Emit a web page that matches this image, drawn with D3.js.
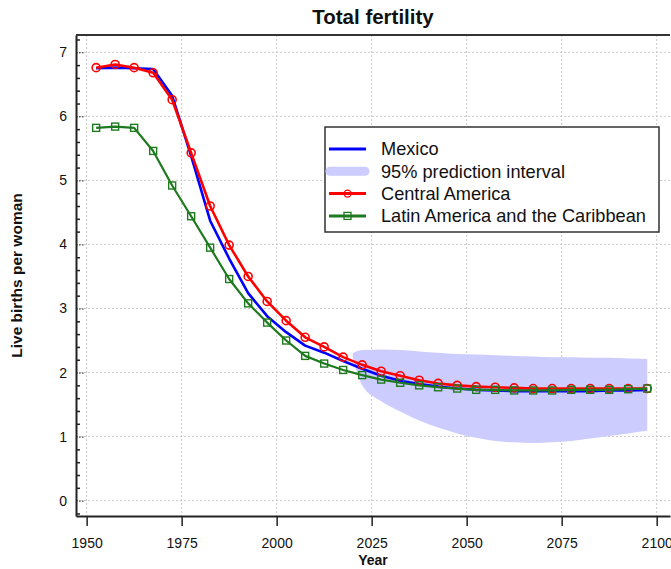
<!DOCTYPE html>
<html>
<head>
<meta charset="utf-8">
<script src="https://cdn.jsdelivr.net/npm/d3@7"></script>
<style>
  body { margin: 0; background: #fff; }
  text { font-family: "Liberation Sans", Arial, sans-serif; fill: #111; }
</style>
</head>
<body>
<div id="chart"></div>
<script>
// data
const years = [1952.5, 1957.5, 1962.5, 1967.5, 1972.5, 1977.5, 1982.5, 1987.5, 1992.5, 1997.5,
    2002.5, 2007.5, 2012.5, 2017.5, 2022.5, 2027.5, 2032.5, 2037.5, 2042.5, 2047.5,
    2052.5, 2057.5, 2062.5, 2067.5, 2072.5, 2077.5, 2082.5, 2087.5, 2092.5, 2097.5];
const mexico = [6.75, 6.76, 6.75, 6.74, 6.32, 5.38, 4.37, 3.78, 3.24, 2.88,
    2.63, 2.42, 2.31, 2.18, 2.06, 1.95, 1.87, 1.82, 1.78, 1.75,
    1.73, 1.72, 1.71, 1.71, 1.71, 1.71, 1.71, 1.72, 1.72, 1.73];
const centralAmerica = [6.76, 6.81, 6.76, 6.68, 6.26, 5.43, 4.60, 3.99, 3.50, 3.11,
    2.81, 2.55, 2.40, 2.24, 2.12, 2.02, 1.95, 1.88, 1.83, 1.80,
    1.78, 1.77, 1.76, 1.75, 1.75, 1.75, 1.75, 1.75, 1.75, 1.75];
const latinAmerica = [5.82, 5.84, 5.82, 5.46, 4.92, 4.44, 3.95, 3.46, 3.08, 2.78,
    2.50, 2.26, 2.14, 2.04, 1.96, 1.89, 1.84, 1.80, 1.77, 1.75,
    1.73, 1.73, 1.72, 1.72, 1.72, 1.73, 1.73, 1.73, 1.74, 1.75];
const piYears = [2020, 2022.5, 2027.5, 2032.5, 2037.5, 2042.5, 2047.5, 2052.5, 2057.5,
    2062.5, 2067.5, 2072.5, 2077.5, 2082.5, 2087.5, 2092.5, 2097.5];
const piUpper = [2.30, 2.35, 2.36, 2.35, 2.33, 2.31, 2.29, 2.28, 2.27,
    2.26, 2.25, 2.24, 2.24, 2.23, 2.23, 2.22, 2.21];
const piLower = [2.24, 1.80, 1.55, 1.39, 1.25, 1.14, 1.05, 0.98, 0.93,
    0.91, 0.90, 0.91, 0.93, 0.97, 1.01, 1.05, 1.09];
const xTicks = [1950, 1975, 2000, 2025, 2050, 2075, 2100];
const yTicks = [0, 1, 2, 3, 4, 5, 6, 7];
const yMinor = [-0.2, 0.2, 0.4, 0.6, 0.8, 1.2, 1.4, 1.6, 1.8, 2.2, 2.4, 2.6, 2.8,
    3.2, 3.4, 3.6, 3.8, 4.2, 4.4, 4.6, 4.8, 5.2, 5.4, 5.6, 5.8, 6.2, 6.4, 6.6, 6.8, 7.2];
const legendLabels = ['Mexico', '95% prediction interval', 'Central America', 'Latin America and the Caribbean'];

const width = 671, height = 569;
const plot = { left: 76, right: 670, top: 35, bottom: 516 };

const svg = d3.select('#chart')
    .append('svg')
    .attr('width', width)
    .attr('height', height);

const x = d3.scaleLinear().domain([1947.2, 2103.5]).range([plot.left, plot.right]);
const y = d3.scaleLinear().domain([-0.24, 7.27]).range([plot.bottom, plot.top]);

// grid
svg.append('g').selectAll('line')
    .data(xTicks)
    .enter()
    .append('line')
    .attr('x1', d => x(d)).attr('x2', d => x(d))
    .attr('y1', plot.top).attr('y2', plot.bottom)
    .attr('stroke', '#c8c8c8')
    .attr('stroke-dasharray', '2,2');
svg.append('g').selectAll('line')
    .data(yTicks)
    .enter()
    .append('line')
    .attr('x1', plot.left).attr('x2', plot.right)
    .attr('y1', d => y(d)).attr('y2', d => y(d))
    .attr('stroke', '#c8c8c8')
    .attr('stroke-dasharray', '2,2');

// prediction band
const band = piYears.map((yr, i) => ({ yr: yr, lo: piLower[i], hi: piUpper[i] }));
svg.append('path')
    .datum(band)
    .attr('fill', '#ccccff')
    .attr('d', d3.area().curve(d3.curveMonotoneX).x(d => x(d.yr)).y0(d => y(d.lo)).y1(d => y(d.hi)));

function drawSeries(values, color, w) {
    svg.append('path')
        .datum(values)
        .attr('fill', 'none')
        .attr('stroke', color)
        .attr('stroke-width', w)
        .attr('stroke-linejoin', 'round')
        .attr('d', d3.line().x((d, i) => x(years[i])).y(d => y(d)));
}

drawSeries(mexico, '#0000ff', 2.6);
drawSeries(centralAmerica, '#ff0000', 2.6);
svg.append('g').selectAll('circle')
    .data(centralAmerica)
    .enter()
    .append('circle')
    .attr('cx', (d, i) => x(years[i]))
    .attr('cy', d => y(d))
    .attr('r', 4)
    .attr('fill', 'none')
    .attr('stroke', '#ff0000')
    .attr('stroke-width', 1.6);
drawSeries(latinAmerica, '#1e7a1e', 2.2);
svg.append('g').selectAll('rect')
    .data(latinAmerica)
    .enter()
    .append('rect')
    .attr('x', (d, i) => x(years[i]) - 3.5)
    .attr('y', d => y(d) - 3.5)
    .attr('width', 7)
    .attr('height', 7)
    .attr('fill', 'none')
    .attr('stroke', '#1e7a1e')
    .attr('stroke-width', 1.4);

// axes
const xAxis = svg.append('g')
    .attr('transform', 'translate(0,' + plot.bottom + ')')
    .call(d3.axisBottom(x).tickValues(xTicks).tickFormat(d3.format('d')).tickSize(10).tickPadding(12).tickSizeOuter(0));
xAxis.select('.domain').attr('stroke', '#222').attr('stroke-width', 2);
xAxis.selectAll('.tick line').attr('stroke', '#222').attr('stroke-width', 1.5);
xAxis.selectAll('text').style('font-size', '14px').attr('fill', '#111');

const yAxis = svg.append('g')
    .attr('transform', 'translate(' + plot.left + ',0)')
    .call(d3.axisLeft(y).tickValues(yTicks).tickSize(-8).tickPadding(9).tickSizeOuter(0));
yAxis.select('.domain').attr('stroke', '#222').attr('stroke-width', 2);
yAxis.selectAll('.tick line').attr('stroke', '#222').attr('stroke-dasharray', '1.5,1.5');
yAxis.selectAll('text').style('font-size', '14px').attr('fill', '#111');

const yAxisMinor = svg.append('g')
    .attr('transform', 'translate(' + plot.left + ',0)')
    .call(d3.axisLeft(y).tickValues(yMinor).tickSize(-4).tickFormat('').tickSizeOuter(0));
yAxisMinor.select('.domain').remove();
yAxisMinor.selectAll('.tick line').attr('stroke', '#222').attr('stroke-width', 1.5);

// top frame
svg.append('line')
    .attr('x1', plot.left).attr('x2', plot.right)
    .attr('y1', plot.top).attr('y2', plot.top)
    .attr('stroke', '#333').attr('stroke-width', 2);

// titles
svg.append('text')
    .attr('x', (plot.left + plot.right) / 2)
    .attr('y', 24)
    .attr('text-anchor', 'middle')
    .style('font-size', '20.5px')
    .style('font-weight', 'bold')
    .text('Total fertility');
svg.append('text')
    .attr('x', (plot.left + plot.right) / 2)
    .attr('y', 565)
    .attr('text-anchor', 'middle')
    .style('font-size', '14px')
    .style('font-weight', 'bold')
    .text('Year');
svg.append('text')
    .attr('transform', 'translate(22,' + (plot.top + plot.bottom) / 2 + ') rotate(-90)')
    .attr('text-anchor', 'middle')
    .style('font-size', '15.5px')
    .style('font-weight', 'bold')
    .text('Live births per woman');

// legend
const legend = svg.append('g').attr('transform', 'translate(325,127)');
legend.append('rect')
    .attr('width', 334).attr('height', 105)
    .attr('fill', '#fff')
    .attr('stroke', '#333')
    .attr('stroke-width', 1.5);
const rows = legend.selectAll('g.row')
    .data(legendLabels)
    .enter()
    .append('g')
    .attr('class', 'row')
    .attr('transform', (d, i) => 'translate(0,' + (22 + i * 22.3) + ')');
rows.append('text')
    .attr('x', 56)
    .attr('dy', '0.35em')
    .style('font-size', '18.2px')
    .text(d => d);
const legendStyle = [
    { color: '#0000ff', w: 3 },
    { color: '#ccccff', w: 9 },
    { color: '#ff0000', w: 3 },
    { color: '#1e7a1e', w: 3 }
];
rows.append('line')
    .attr('x1', (d, i) => i === 1 ? 5 : 4)
    .attr('x2', (d, i) => i === 1 ? 40 : 41)
    .attr('stroke', (d, i) => legendStyle[i].color)
    .attr('stroke-width', (d, i) => legendStyle[i].w)
    .attr('stroke-linecap', (d, i) => i === 1 ? 'round' : 'butt');
rows.filter((d, i) => i === 2).append('circle')
    .attr('cx', 22.5).attr('r', 3.5)
    .attr('fill', 'none').attr('stroke', '#ff0000').attr('stroke-width', 1.3);
rows.filter((d, i) => i === 3).append('rect')
    .attr('x', 19).attr('y', -3.5).attr('width', 7).attr('height', 7)
    .attr('fill', 'none').attr('stroke', '#1e7a1e').attr('stroke-width', 1.3);
</script>
</body>
</html>
